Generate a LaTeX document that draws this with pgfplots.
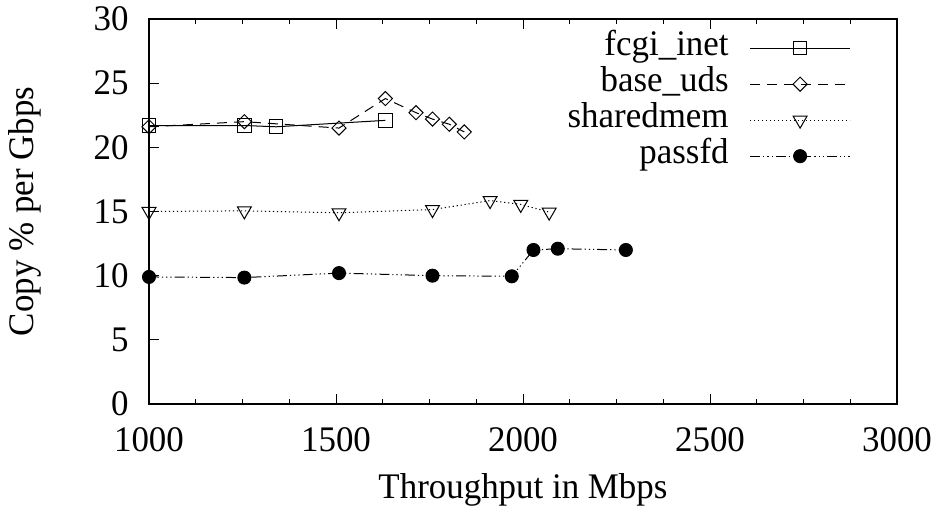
\documentclass[border=0pt]{standalone}
\usepackage{fontspec}
\setmainfont{Liberation Serif}[FakeStretch=0.97]
\usepackage{pgfplots}
\pgfplotsset{compat=1.18}
\begin{document}
\begin{tikzpicture}[font=\fontsize{18}{21}\selectfont]
\begin{axis}[
  name=ax,
  scale only axis,
  width=374pt, height=192.5pt,
  xmin=1000, xmax=3000, ymin=0, ymax=30,
  xtick={1000,1500,2000,2500,3000},
  ytick={0,5,10,15,20,25,30},
  minor x tick num=3,
  xtick pos=both, ytick pos=left,
  tick align=inside,
  major tick length=5pt, minor tick length=2.5pt,
  every tick/.style={black, line width=0.5pt},
  axis line style={line width=0.8pt},
  /pgf/number format/assume math mode=true,
  /pgf/number format/1000 sep={},
  xticklabel style={inner sep=0pt, yshift=-11.5pt},
  yticklabel style={inner sep=0pt, xshift=-10pt},
  xlabel={Throughput in Mbps},
  ylabel={Copy \% per Gbps},
  every axis x label/.style={at={(rel axis cs:0.5,0)}, yshift=-43pt, anchor=center},
  every axis y label/.style={at={(rel axis cs:0,0.5)}, xshift=-62pt, rotate=90, anchor=center},
  legend cell align=right,
  legend plot pos=right,
  legend style={at={(rel axis cs:0.9385,0.972)}, anchor=north east, draw=none, fill=none,
    inner sep=0pt, row sep=0pt, column sep=10.5pt,
    nodes={inner sep=0pt, text height=12.5pt, text depth=5.5pt}},
  legend image code/.code={\draw[mark repeat=2,mark phase=2,#1] plot coordinates {(0pt,0pt) (25pt,0pt) (50pt,0pt)};},
]
\addplot[black, line width=0.5pt, mark=square, mark size=3.4pt, mark options={solid}]
  coordinates {(1000,21.7) (1255,21.7) (1340,21.6) (1632,22.1)};
\addlegendentry{fcgi\_inet}
\addplot[black, line width=0.5pt, dash pattern=on 5pt off 3.5pt, mark=square, mark size=2.5pt, mark options={solid, rotate=45}]
  coordinates {(1000,21.6) (1255,22.0) (1508,21.5) (1632,23.8) (1714,22.7) (1758,22.2) (1803,21.8) (1843,21.2)};
\addlegendentry{base\_uds}
\addplot[black, line width=0.5pt, dash pattern=on 0.6pt off 1.4pt, mark=triangle, mark size=4pt, mark options={solid, rotate=180}]
  coordinates {(1000,15.0) (1255,15.05) (1508,14.9) (1758,15.15) (1912,15.85) (1994,15.55) (2070,14.95)};
\addlegendentry{sharedmem}
\addplot[black, line width=0.5pt, dash pattern=on 5pt off 1.5pt on 0.6pt off 1.5pt on 0.6pt off 1.5pt on 0.6pt off 1.5pt, mark=*, mark size=3.25pt, mark options={solid, fill=black}]
  coordinates {(1000,9.9) (1255,9.85) (1508,10.2) (1758,10.0) (1970,9.95) (2028,12.0) (2093,12.1) (2275,12.0)};
\addlegendentry{passfd}
\end{axis}
\pgfresetboundingbox
\path ([shift={(-74.5pt,-54pt)}]ax.south west) rectangle ([shift={(20pt,9.5pt)}]ax.north east);
\end{tikzpicture}
\end{document}
